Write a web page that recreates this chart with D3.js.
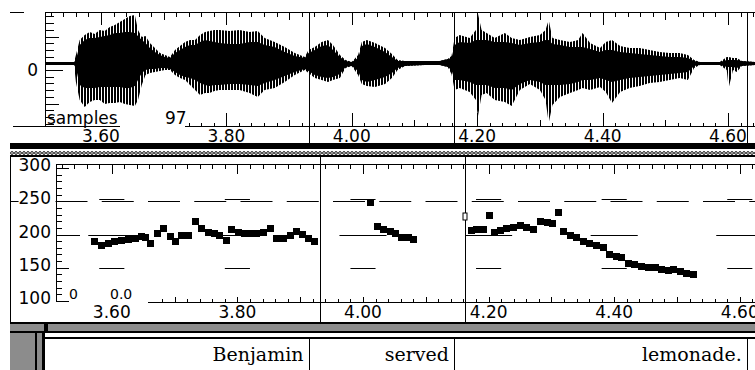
<!DOCTYPE html>
<html>
<head>
<meta charset="utf-8">
<script src="https://cdn.jsdelivr.net/npm/d3@7"></script>
<style>
  html, body { margin: 0; padding: 0; background: #fff; }
  svg { display: block; }
  text { font-family: 'DejaVu Sans', sans-serif; fill: #000; }
  .word { font-family: 'DejaVu Serif', serif; font-size: 19px; }
</style>
</head>
<body>
<svg id="chart"></svg>
<script>
const WIDTH = 755;
const HEIGHT = 370;

// word tier
const words = ['Benjamin', 'served', 'lemonade.'];
const wordEnds = [3.931, 4.163, 4.630];

// time axis labels (s)
const timeLabels = [3.6, 3.8, 4.0, 4.2, 4.4, 4.6];

// waveform envelope (arbitrary amplitude units, 0 = axis zero)
const waveTime = [3.512, 3.557, 3.560, 3.566, 3.574, 3.582, 3.590, 3.598, 3.606, 3.614, 3.622, 3.630, 3.638, 3.646,
	3.654, 3.659, 3.665, 3.671, 3.678, 3.686, 3.694, 3.702, 3.710, 3.718, 3.726, 3.734, 3.742, 3.750, 3.758, 3.766,
	3.773, 3.781, 3.789, 3.805, 3.821, 3.837, 3.850, 3.861, 3.877, 3.893, 3.909, 3.925, 3.931, 3.941, 3.952, 3.962,
	3.970, 3.981, 3.990, 4.000, 4.010, 4.016, 4.024, 4.037, 4.053, 4.064, 4.073, 4.085, 4.116, 4.140, 4.153, 4.159,
	4.164, 4.172, 4.188, 4.198, 4.201, 4.207, 4.215, 4.228, 4.244, 4.255, 4.268, 4.284, 4.300, 4.309, 4.314, 4.320,
	4.332, 4.348, 4.361, 4.368, 4.380, 4.396, 4.405, 4.415, 4.428, 4.443, 4.459, 4.475, 4.491, 4.507, 4.523, 4.536,
	4.546, 4.555, 4.587, 4.598, 4.601, 4.608, 4.614, 4.622, 4.643];
const waveUpper = [8, 8, 15, 30, 35, 38, 36, 40, 39, 43, 45, 48, 51, 54,
	55, 40, 33, 34, 27, 22, 17, 15, 13, 20, 24, 28, 30, 30, 35, 38,
	39, 40, 40, 39, 40, 38, 39, 32, 28, 23, 17, 13, 20, 23, 28, 30,
	25, 15, 10, 8, 15, 28, 30, 27, 22, 16, 10, 9, 9, 9, 11, 14,
	32, 35, 32, 40, 57, 40, 37, 32, 37, 32, 30, 33, 35, 40, 50, 32,
	30, 28, 30, 37, 27, 22, 28, 30, 24, 22, 22, 20, 18, 17, 17, 15,
	10, 8, 8, 13, 13, 12, 12, 9, 8];
const waveLower = [5, 5, -12, -30, -37, -32, -30, -30, -34, -33, -33, -32, -34, -35,
	-36, -30, -15, -5, -3, -2, -1, 0, 0, -5, -8, -10, -15, -20, -25, -23,
	-23, -21, -20, -20, -20, -23, -27, -20, -18, -12, -5, 0, -3, -8, -10, -12,
	-10, -8, 2, 4, -5, -14, -16, -17, -14, -8, 0, 4, 5, 5, 3, -4,
	-20, -18, -22, -30, -47, -25, -23, -30, -32, -36, -20, -14, -20, -30, -53, -35,
	-27, -23, -20, -18, -20, -17, -22, -33, -22, -18, -16, -13, -12, -10, -8, -10,
	2, 5, 5, 0, -18, 0, -2, 4, 5];
const waveCoreUpper = [8, 8, 10, 25, 30, 32, 32, 33, 34, 35, 37, 37, 38, 38,
	37, 34, 30, 27, 22, 18, 15, 13, 12, 17, 20, 23, 25, 25, 28, 30,
	29, 28, 27, 26, 26, 28, 28, 25, 23, 18, 14, 12, 17, 20, 24, 25,
	20, 13, 9, 8, 12, 24, 26, 23, 18, 13, 9, 9, 9, 9, 11, 12,
	25, 28, 27, 30, 30, 30, 30, 28, 28, 27, 25, 27, 28, 30, 30, 26,
	25, 23, 23, 23, 21, 18, 20, 20, 18, 17, 16, 15, 14, 13, 13, 12,
	9, 8, 8, 10, 10, 10, 10, 9, 8];
const waveCoreLower = [5, 5, 2, -15, -18, -18, -18, -17, -17, -17, -17, -17, -18, -18,
	-16, -10, -3, 0, 1, 1, 2, 2, 1, -2, -5, -7, -8, -10, -13, -15,
	-16, -15, -15, -14, -14, -15, -16, -13, -10, -6, -2, 1, -1, -5, -7, -8,
	-7, -4, 3, 4, -1, -10, -12, -10, -7, -3, 2, 4, 5, 5, 3, 0,
	-10, -10, -12, -15, -15, -15, -15, -18, -18, -20, -14, -10, -12, -15, -15, -15,
	-15, -14, -12, -10, -10, -8, -10, -12, -10, -8, -7, -6, -5, -4, -3, -2,
	4, 5, 5, 3, 3, 3, 2, 4, 5];

// pitch track (s, Hz)
const pitchTime = [3.572, 3.584, 3.594, 3.605, 3.616, 3.626, 3.637, 3.648, 3.654, 3.661, 3.672, 3.682, 3.693,
	3.702, 3.711, 3.722, 3.734, 3.743, 3.754, 3.764, 3.772, 3.782, 3.791, 3.801, 3.811, 3.821, 3.831, 3.841,
	3.853, 3.863, 3.873, 3.884, 3.894, 3.903, 3.913, 3.922,
	4.012, 4.023, 4.032, 4.043, 4.052, 4.062, 4.072, 4.081,
	4.172, 4.181, 4.192, 4.201, 4.210, 4.219, 4.229, 4.239, 4.250, 4.261, 4.271, 4.282, 4.293, 4.302, 4.311,
	4.320, 4.330, 4.340, 4.351, 4.361, 4.372, 4.383, 4.392, 4.403, 4.412, 4.422, 4.433, 4.444, 4.454, 4.465,
	4.476, 4.486, 4.494, 4.505, 4.515, 4.526];
const pitchHz = [189.8, 183.3, 186.8, 189.4, 190.9, 192.4, 194.4, 197, 196, 185.9, 201, 208.6, 197,
	189.8, 198.5, 198.5, 220.1, 208.6, 203.5, 202, 198.5, 190.9, 207.1, 203.5, 201, 201, 201, 203.5,
	208.6, 193.5, 194.7, 198.5, 204.5, 200.3, 194.4, 189.7,
	247.4, 212.1, 207.1, 205, 201, 195, 195, 192,
	206, 207.1, 207.1, 228.8, 203.5, 206, 208.6, 211, 213.6, 210.1, 207.1, 220.1, 218.6, 217.1, 233.8,
	205, 198.5, 195, 189.8, 186.8, 183.3, 179.8, 169.7, 166.7, 165.1, 156.5, 154.5, 151.5, 150.4, 150.4,
	148, 146.5, 148, 144.4, 141.4, 139.4];

const hzLabels = [100, 150, 200, 250, 300];

const crisp = (v) => Math.round(v) + 0.5;

function tickLevel(t) {
	if (Math.abs(t * 5 - Math.round(t * 5)) < 1e-6) return 2;
	if (Math.abs(t * 10 - Math.round(t * 10)) < 1e-6) return 1;
	return 0;
}

const svg = d3.select('#chart').attr('width', WIDTH).attr('height', HEIGHT);
const defs = svg.append('defs');

// vertical striping for the outer waveform envelope
const stripe = defs.append('pattern')
	.attr('id', 'stripe')
	.attr('patternUnits', 'userSpaceOnUse')
	.attr('width', 3)
	.attr('height', 4);
stripe.append('rect').attr('x', 0).attr('y', 0).attr('width', 2).attr('height', 4).attr('fill', '#000');

// chain-link border between the panels
const chain = defs.append('pattern')
	.attr('id', 'chain')
	.attr('patternUnits', 'userSpaceOnUse')
	.attr('x', 10)
	.attr('y', 150)
	.attr('width', 4)
	.attr('height', 6);
chain.append('circle').attr('cx', 2).attr('cy', 3).attr('r', 1.4)
	.attr('fill', 'none').attr('stroke', '#000').attr('stroke-width', 0.9);

defs.append('clipPath').attr('id', 'waveClip')
	.append('rect').attr('x', 46).attr('y', 13).attr('width', WIDTH - 46).attr('height', 114);
defs.append('clipPath').attr('id', 'pitchClip')
	.append('rect').attr('x', 11).attr('y', 157).attr('width', WIDTH - 11).attr('height', 165);

const times = d3.range(175, 233).map((i) => +(i / 50).toFixed(2));

// ---------- waveform panel ----------
const xWave = d3.scaleLinear().domain([3.6, 4.6]).range([101, 728]);
const yWave = d3.scaleLinear().domain([-57, 57]).range([127, 13]);

const wave = svg.append('g');
const waveRows = waveTime.map((t, i) => ({
	t,
	up: waveUpper[i],
	lo: waveLower[i],
	cu: waveCoreUpper[i],
	cl: waveCoreLower[i],
}));

const waveBody = wave.append('g').attr('clip-path', 'url(#waveClip)');
waveBody.append('path')
	.datum(waveRows)
	.attr('fill', 'url(#stripe)')
	.attr('d', d3.area().x((d) => xWave(d.t)).y0((d) => yWave(d.lo)).y1((d) => yWave(d.up)));
waveBody.append('path')
	.datum(waveRows)
	.attr('fill', '#000')
	.attr('d', d3.area().x((d) => xWave(d.t)).y0((d) => yWave(d.cl)).y1((d) => yWave(d.cu)));

// frame lines
wave.append('line').attr('x1', 10).attr('x2', 24).attr('y1', 12.5).attr('y2', 12.5).attr('stroke', '#000');
wave.append('line').attr('x1', 45).attr('x2', WIDTH).attr('y1', 12.5).attr('y2', 12.5).attr('stroke', '#000');
wave.append('line').attr('x1', 45.5).attr('x2', 45.5).attr('y1', 12).attr('y2', 127).attr('stroke', '#000');
wave.append('line').attr('x1', 13).attr('x2', 120).attr('y1', 126.5).attr('y2', 126.5).attr('stroke', '#000');
wave.append('line').attr('x1', 185).attr('x2', WIDTH).attr('y1', 126.5).attr('y2', 126.5).attr('stroke', '#000');

// time ticks, top (down) and bottom (up)
const waveTicks = times.filter((t) => xWave(t) > 46 && xWave(t) < WIDTH);
wave.selectAll('line.ttop').data(waveTicks).join('line')
	.attr('class', 'ttop')
	.attr('x1', (t) => crisp(xWave(t))).attr('x2', (t) => crisp(xWave(t)))
	.attr('y1', 13).attr('y2', (t) => 13 + [4, 7, 12][tickLevel(t)])
	.attr('stroke', '#000');
wave.selectAll('line.tbot').data(waveTicks.filter((t) => xWave(t) > 185)).join('line')
	.attr('class', 'tbot')
	.attr('x1', (t) => crisp(xWave(t))).attr('x2', (t) => crisp(xWave(t)))
	.attr('y1', 126).attr('y2', (t) => 126 - [3, 6, 13][tickLevel(t)])
	.attr('stroke', '#000');

// amplitude ticks
const ampTicks = d3.range(-8, 9).map((k) => k * 6.7);
wave.selectAll('line.amp').data(ampTicks).join('line')
	.attr('class', 'amp')
	.attr('x1', 46).attr('x2', (v, i) => 46 + (v === 0 ? 17 : Math.abs(i - 8) === 5 ? 13 : 8))
	.attr('y1', (v) => crisp(yWave(v))).attr('y2', (v) => crisp(yWave(v)))
	.attr('stroke', '#000');

wave.append('text').attr('x', 38).attr('y', yWave(0) + 6).attr('text-anchor', 'end')
	.style('font-size', '17px').text('0');
wave.append('text').attr('x', 47).attr('y', 124).style('font-size', '17px').text('samples');
wave.append('text').attr('x', 165).attr('y', 124).style('font-size', '17px').text('97');

wave.selectAll('text.tl').data(timeLabels).join('text')
	.attr('class', 'tl')
	.attr('x', (t) => xWave(t)).attr('y', 142)
	.attr('text-anchor', 'middle')
	.style('font-size', '17px')
	.text((t) => t.toFixed(2));

// word boundaries through the waveform panel
wave.selectAll('line.bound').data(wordEnds).join('line')
	.attr('class', 'bound')
	.attr('x1', (t) => crisp(xWave(t))).attr('x2', (t) => crisp(xWave(t)))
	.attr('y1', 13).attr('y2', 144)
	.attr('stroke', '#000');

// ---------- separator ----------
svg.append('rect').attr('x', 10).attr('y', 143).attr('width', WIDTH - 10).attr('height', 6).attr('fill', '#000');
svg.append('rect').attr('x', 10).attr('y', 149).attr('width', WIDTH - 10).attr('height', 6).attr('fill', 'url(#chain)');
svg.append('rect').attr('x', 10).attr('y', 155).attr('width', WIDTH - 10).attr('height', 2).attr('fill', '#000');

// ---------- pitch panel ----------
const xPitch = d3.scaleLinear().domain([3.6, 4.6]).range([111.8, 739.8]);
const yPitch = d3.scaleLinear().domain([100, 300]).range([301, 168]);

const pitch = svg.append('g');
pitch.append('line').attr('x1', 10.5).attr('x2', 10.5).attr('y1', 156).attr('y2', 323).attr('stroke', '#000');

const pitchBody = pitch.append('g').attr('clip-path', 'url(#pitchClip)');

// reference levels: long dashes near 250 Hz, short marks at every 0.2 s
pitchBody.append('line')
	.attr('x1', 9.25).attr('x2', WIDTH)
	.attr('y1', crisp(yPitch(250))).attr('y2', crisp(yPitch(250)))
	.attr('stroke', '#000').attr('stroke-dasharray', '32,14.25');
const marks = [{ hz: 254, half: 0.02 }, { hz: 200, half: 0.0375 }, { hz: 150, half: 0.02 }];
const majorTimes = d3.range(17, 24).map((i) => i / 5);
marks.forEach((m) => {
	pitchBody.selectAll(null).data(majorTimes).join('line')
		.attr('x1', (t) => xPitch(t - m.half)).attr('x2', (t) => xPitch(t + m.half))
		.attr('y1', crisp(yPitch(m.hz))).attr('y2', crisp(yPitch(m.hz)))
		.attr('stroke', '#000');
});
pitchBody.append('line').attr('x1', 57).attr('x2', 80)
	.attr('y1', crisp(yPitch(200))).attr('y2', crisp(yPitch(200))).attr('stroke', '#000');

// axes
pitch.append('line').attr('x1', 56).attr('x2', WIDTH).attr('y1', 164.5).attr('y2', 164.5).attr('stroke', '#000');
pitch.append('line').attr('x1', 56.5).attr('x2', 56.5).attr('y1', 164).attr('y2', 302).attr('stroke', '#000');
pitch.append('line').attr('x1', 148).attr('x2', WIDTH).attr('y1', 302.5).attr('y2', 302.5).attr('stroke', '#000');

const pitchTicks = times.filter((t) => xPitch(t) > 57 && xPitch(t) < WIDTH);
pitch.selectAll('line.ptop').data(pitchTicks).join('line')
	.attr('class', 'ptop')
	.attr('x1', (t) => crisp(xPitch(t))).attr('x2', (t) => crisp(xPitch(t)))
	.attr('y1', 165).attr('y2', (t) => 165 + [4, 4, 9][tickLevel(t)])
	.attr('stroke', '#000');
pitch.selectAll('line.pbot').data(pitchTicks.filter((t) => xPitch(t) > 150)).join('line')
	.attr('class', 'pbot')
	.attr('x1', (t) => crisp(xPitch(t))).attr('x2', (t) => crisp(xPitch(t)))
	.attr('y1', 302).attr('y2', (t) => 302 - [3, 5, 5][tickLevel(t)])
	.attr('stroke', '#000');

const hzTicks = d3.range(100, 301, 10);
pitch.selectAll('line.hz').data(hzTicks).join('line')
	.attr('class', 'hz')
	.attr('x1', 57).attr('x2', (v) => 57 + (v % 50 === 0 ? 12 : 5))
	.attr('y1', (v) => crisp(yPitch(v))).attr('y2', (v) => crisp(yPitch(v)))
	.attr('stroke', '#000');

// f0 points
pitchBody.selectAll('rect.f0')
	.data(pitchTime.map((t, i) => ({ t, hz: pitchHz[i] })))
	.join('rect')
	.attr('class', 'f0')
	.attr('x', (d) => Math.round(xPitch(d.t) - 3.5))
	.attr('y', (d) => Math.round(yPitch(d.hz) - 3.5))
	.attr('width', 7)
	.attr('height', 7)
	.attr('fill', '#000');

// boundaries through the pitch panel
pitch.selectAll('line.pbound').data(wordEnds).join('line')
	.attr('class', 'pbound')
	.attr('x1', (t) => crisp(xPitch(t))).attr('x2', (t) => crisp(xPitch(t)))
	.attr('y1', 156).attr('y2', 322)
	.attr('stroke', '#000');
pitch.append('rect')
	.attr('x', Math.round(xPitch(wordEnds[1])) - 2).attr('y', Math.round(yPitch(228)) - 3)
	.attr('width', 4).attr('height', 7)
	.attr('fill', '#fff').attr('stroke', '#000');

// labels
const hzLabelGroup = pitch.append('g').attr('clip-path', 'url(#pitchClip)');
hzLabels.forEach((v) => {
	const label = hzLabelGroup.append('text')
		.attr('x', 51).attr('y', yPitch(v) + 3)
		.attr('text-anchor', 'end')
		.style('font-size', '17px')
		.text(v);
	const box = label.node().getBBox();
	hzLabelGroup.insert('rect', 'text')
		.attr('x', box.x).attr('y', box.y + 3).attr('width', box.width).attr('height', box.height - 6)
		.attr('fill', '#fff');
});
pitch.append('text').attr('x', 69).attr('y', 299).style('font-size', '14px').text('0');
pitch.append('text').attr('x', 110).attr('y', 299).style('font-size', '14px').text('0.0');

pitch.selectAll('text.ptl').data(timeLabels).join('text')
	.attr('class', 'ptl')
	.attr('x', (t) => xPitch(t)).attr('y', 318)
	.attr('text-anchor', 'middle')
	.style('font-size', '17px')
	.text((t) => t.toFixed(2));

// ---------- word tier ----------
svg.append('rect').attr('x', 10).attr('y', 322).attr('width', WIDTH - 10).attr('height', 2).attr('fill', '#000');
svg.append('rect').attr('x', 10).attr('y', 324).attr('width', WIDTH - 10).attr('height', 7).attr('fill', '#8c8c8c');
svg.append('rect').attr('x', 10).attr('y', 331).attr('width', WIDTH - 10).attr('height', 2).attr('fill', '#000');
svg.append('rect').attr('x', 44).attr('y', 322).attr('width', 4).attr('height', 11).attr('fill', '#000');
svg.append('rect').attr('x', 10).attr('y', 333).attr('width', 25).attr('height', HEIGHT - 333).attr('fill', '#8c8c8c');
svg.append('rect').attr('x', 35).attr('y', 333).attr('width', 2).attr('height', HEIGHT - 333).attr('fill', '#000');
svg.append('rect').attr('x', 37).attr('y', 333).attr('width', 5).attr('height', HEIGHT - 333).attr('fill', '#8c8c8c');
svg.append('rect').attr('x', 42).attr('y', 333).attr('width', 3).attr('height', HEIGHT - 333).attr('fill', '#000');
svg.append('rect').attr('x', 45).attr('y', 337).attr('width', WIDTH - 45).attr('height', 2).attr('fill', '#000');

const tier = svg.append('g');
tier.selectAll('line.div').data(wordEnds).join('line')
	.attr('class', 'div')
	.attr('x1', (t) => crisp(xWave(t))).attr('x2', (t) => crisp(xWave(t)))
	.attr('y1', 338).attr('y2', HEIGHT)
	.attr('stroke', '#000');
tier.selectAll('text.word').data(words).join('text')
	.attr('class', 'word')
	.attr('x', (w, i) => xWave(wordEnds[i]) - 5)
	.attr('y', 361)
	.attr('text-anchor', 'end')
	.text((w) => w);
</script>
</body>
</html>
